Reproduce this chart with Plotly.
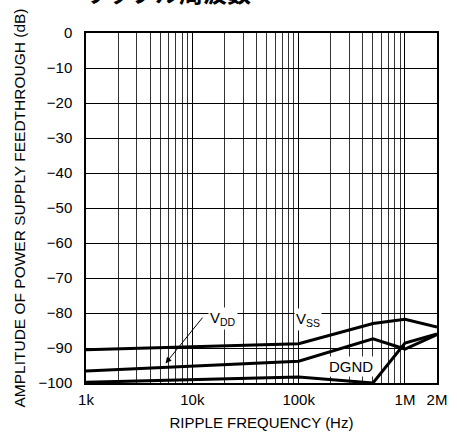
import numpy as np
import plotly.graph_objects as go

# Ripple frequency (Hz) and feedthrough amplitude (dB) for each supply pin
freq = [1e3, 1e5, 5e5, 1e6, 2e6]
vss = [-90.5, -88.8, -83.0, -81.8, -84.0]
vdd = [-96.6, -93.8, -87.4, -90.3, -86.2]
dgnd = [-99.8, -98.3, -100.0, -88.6, -86.0]

x_ticks = [1e3, 1e4, 1e5, 1e6, 2e6]
x_labels = ["1k", "10k", "100k", "1M", "2M"]
y_ticks = list(range(0, -101, -10))
y_labels = ["0"] + ["\u2212" + str(-v) for v in y_ticks[1:]]

FONT = "Liberation Sans"

fig = go.Figure()
for ys in (vss, vdd, dgnd):
    fig.add_trace(go.Scatter(x=freq, y=ys, mode="lines",
                             line=dict(color="black", width=3),
                             showlegend=False, hoverinfo="skip"))

label_style = dict(showarrow=False, bgcolor="white", borderpad=1,
                   font=dict(family=FONT, size=15, color="black"))
fig.add_annotation(x=np.log10(1.95e4), y=-81.6, text="V<sub>DD</sub>", **label_style)
fig.add_annotation(x=np.log10(1.22e5), y=-81.9, text="V<sub>SS</sub>", **label_style)
fig.add_annotation(x=np.log10(3.1e5), y=-95.3, text="DGND", **label_style)

# pointer from the V_DD label down to its curve
fig.add_annotation(x=np.log10(5.6e3), y=-94.4, ax=np.log10(1.28e4), ay=-80.9,
                   xref="x", yref="y", axref="x", ayref="y", text="",
                   showarrow=True, arrowhead=2, arrowsize=1.2, arrowwidth=1,
                   arrowcolor="black")

fig.add_annotation(x=-0.015, y=1.062, xref="paper", yref="paper", xanchor="left",
                   yanchor="bottom", showarrow=False,
                   text="<b>リップル周波数</b>",
                   font=dict(family="Noto Sans CJK JP", size=24, color="black"))

fig.update_xaxes(type="log", range=[3, np.log10(2e6)],
                 tickvals=x_ticks, ticktext=x_labels, ticks="",
                 showgrid=True, gridcolor="black", gridwidth=1,
                 minor=dict(dtick="D1", showgrid=True, gridcolor="#333", gridwidth=1, ticks=""),
                 showline=True, linecolor="black", linewidth=1.5, mirror=True,
                 zeroline=False, ticklabelstandoff=2, automargin=False,
                 title=dict(text="RIPPLE FREQUENCY (Hz)", font=dict(family=FONT, size=15), standoff=11),
                 tickfont=dict(family=FONT, size=15, color="black"))
fig.update_yaxes(range=[-100, 0], tickvals=y_ticks, ticktext=y_labels, ticks="",
                 showgrid=True, gridcolor="black", gridwidth=1,
                 showline=True, linecolor="black", linewidth=1.5, mirror=True,
                 zeroline=False, ticklabelstandoff=9, automargin=False,
                 title=dict(text="AMPLITUDE OF POWER SUPPLY FEEDTHROUGH (dB)",
                            font=dict(family=FONT, size=15.5), standoff=9),
                 tickfont=dict(family=FONT, size=15, color="black"))

fig.update_layout(width=457, height=435,
                  margin=dict(l=86, r=20, t=33, b=52),
                  paper_bgcolor="white", plot_bgcolor="white",
                  font=dict(family=FONT, color="black"))

fig.write_html("out.html")
